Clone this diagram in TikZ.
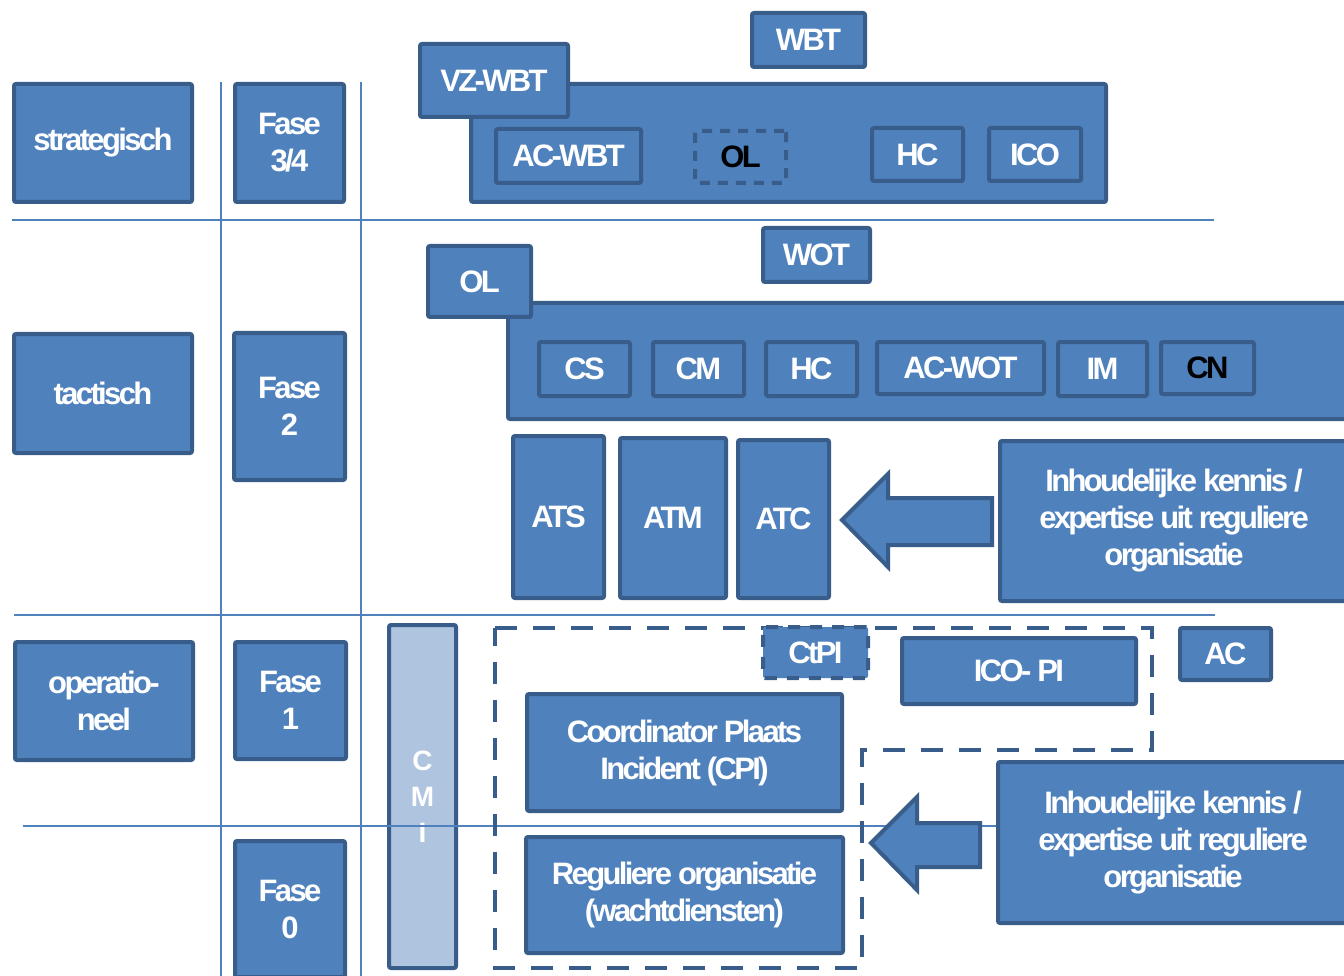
\documentclass[tikz,border=0pt]{standalone}
\usepackage{fontspec}
\setmainfont{Liberation Sans}
\newfontfamily\blokfont{Liberation Sans}[LetterSpace=-8.5]
\definecolor{vulblauw}{RGB}{79,129,189}
\definecolor{randblauw}{RGB}{56,93,138}
\definecolor{cmiblauw}{RGB}{175,196,223}

\begin{document}
\begin{tikzpicture}[x=1pt, y=-1pt,
  every node/.style={font=\blokfont\bfseries\fontsize{31}{37}\selectfont, text=white, align=center, inner sep=0pt},
  blok/.style 2 args={draw=randblauw, fill=vulblauw, line width=4pt, rounded corners=2pt, minimum width=#1pt, minimum height=#2pt},
  stippel/.style={dash pattern=on 10pt off 8pt},
  raster/.style={draw=vulblauw, line width=2.5pt}]
\useasboundingbox (0,0) rectangle (1344,976);
\node[blok={67}{343}, fill=cmiblauw, font=\bfseries\fontsize{28}{36}\selectfont] (cmi) at (422.5,796.5) {C\\M\\I};
\draw[raster] (221,82) -- (221,980);
\draw[raster] (361,82) -- (361,980);
\draw[raster] (12,220) -- (1214,220);
\draw[raster] (14,615) -- (1215,615);
\draw[raster] (23,826) -- (996,826);
\node[blok={178}{118}] (strat) at (103,143) {strategisch};
\node[blok={109}{118}] (fase34) at (289.5,143) {Fase\\3/4};
\node[blok={178}{119}] (tact) at (103,393.5) {tactisch};
\node[blok={111}{147}] (fase2) at (289.5,406.5) {Fase\\2};
\node[blok={178}{118}] (oper) at (104,701) {operatio-\\neel};
\node[blok={111}{117}] (fase1) at (290.5,700.5) {Fase\\1};
\node[blok={110}{136}] (fase0) at (290,909) {Fase\\0};
\node[blok={113}{54}] (wbt) at (808.5,40) {WBT};
\node[blok={635}{118}] (wbtbox) at (788.5,143) {};
\node[blok={148}{73}] (vzwbt) at (494,80.5) {VZ-WBT};
\node[blok={145}{54}] (acwbt) at (568.5,156) {AC-WBT};
\node[blok={91}{52}, stippel, text=black] (olwbt) at (740.5,157) {OL};
\node[blok={91}{53}] (hcwbt) at (917.5,154.5) {HC};
\node[blok={92}{53}] (icowbt) at (1035,154.5) {ICO};
\node[blok={107}{54}] (wot) at (816.5,255) {WOT};
\node[blok={842}{116}] (wotbox) at (929,361) {};
\node[blok={103}{71}] (oltac) at (479.5,281.5) {OL};
\node[blok={91}{54}] (cs) at (584.5,369) {CS};
\node[blok={91}{54}] (cm) at (698.5,369) {CM};
\node[blok={91}{54}] (hctac) at (811.5,369) {HC};
\node[blok={167}{52}] (acwot) at (960.5,368) {AC-WOT};
\node[blok={89}{54}] (im) at (1102.5,369) {IM};
\node[blok={93}{52}, text=black] (cn) at (1207.5,368) {CN};
\node[blok={91}{162}] (ats) at (558.5,517) {ATS};
\node[blok={106}{160}] (atm) at (673,518) {ATM};
\node[blok={91}{158}] (atc) at (783.5,519) {ATC};
\node[blok={348}{160}] (kennis) at (1174,521) {Inhoudelijke kennis /\\expertise uit reguliere\\organisatie};
\draw[draw=randblauw, fill=vulblauw, line width=4pt] (992,498) -- (888,498) -- (888,474) -- (842,520) -- (888,567) -- (888,545) -- (992,545) -- cycle;
\draw[draw=randblauw, line width=4pt, dash pattern=on 22pt off 16pt] (495,628) -- (1152,628) -- (1152,750) -- (862,750) -- (862,968) -- (495,968) -- cycle;
\node[blok={105}{51}, dash pattern=on 12pt off 10pt] (ctpi) at (815.5,652.5) {CtPI};
\node[blok={234}{66}] (icopi) at (1019,671) {ICO- PI};
\node[blok={91}{52}] (ac) at (1225.5,654) {AC};
\node[blok={315}{117}] (cpi) at (684.5,752.5) {Coordinator Plaats\\Incident (CPI)};
\node[blok={317}{116}] (regorg) at (684.5,895) {Reguliere organisatie\\(wachtdiensten)};
\node[blok={350}{161}] (kennisop) at (1173,842.5) {Inhoudelijke kennis /\\expertise uit reguliere\\organisatie};
\draw[draw=randblauw, fill=vulblauw, line width=4pt] (980,823) -- (917,823) -- (917,797) -- (871,843) -- (917,890) -- (917,867) -- (980,867) -- cycle;
\end{tikzpicture}
\end{document}
